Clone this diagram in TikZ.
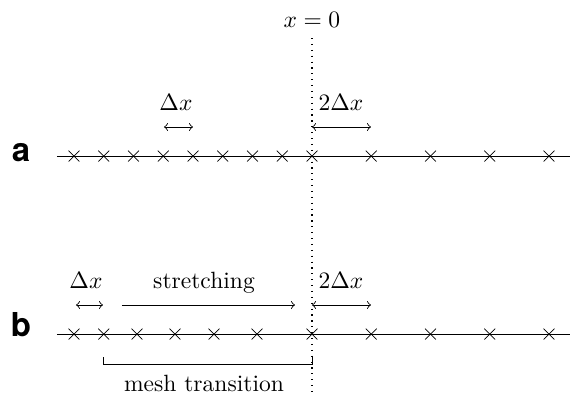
\documentclass[tikz,border=0pt]{standalone}
\usepackage{fontspec}
\newfontfamily\panelfont{TeX Gyre Heros}
\usetikzlibrary{shapes.misc}
\tikzset{
  gridpt/.style={cross out,draw,minimum size=4.3pt,inner sep=0pt,line width=0.3pt},
  spacing/.style={<->,line width=0.35pt},
  panel/.style={font=\panelfont\bfseries\fontsize{14}{16}\selectfont,anchor=base},
  lbl/.style={anchor=base}
}
\begin{document}
\begin{tikzpicture}[x=0.425pt,y=-0.425pt]
  \useasboundingbox (0,0) rectangle (570,395);
  % interface x = 0
  \node[lbl] (origin) at (312,27) {$x=0$};
  \coordinate (ztop) at (312,38);
  \coordinate (zbot) at (312,393);
  \draw[dotted,line width=0.5pt] (ztop) -- (zbot);
  % a: abrupt change of mesh size
  \node[panel] (pa) at (21,161) {a};
  \coordinate (astart) at (57,156);
  \coordinate (aend) at (570,156);
  \draw[line width=0.4pt] (astart) -- (aend);
  \foreach \k in {0,...,8}
    \node[gridpt] (a\k) at ({74+29.75*\k},156) {};
  \foreach \k in {1,...,4}
    \node[gridpt] (ac\k) at ({312+59.25*\k},156) {};
  \coordinate (adxl) at (164,127);
  \coordinate (adxr) at (193,127);
  \draw[spacing] (adxl) -- (adxr);
  \node[lbl] (adx) at (176,110) {$\Delta x$};
  \coordinate (addxl) at (312,127);
  \coordinate (addxr) at (371,127);
  \draw[spacing] (addxl) -- (addxr);
  \node[lbl] (addx) at (341,110) {$2\Delta x$};
  % b: stretched mesh
  \node[panel] (pb) at (21,336) {b};
  \coordinate (bstart) at (57,334);
  \coordinate (bend) at (570,334);
  \draw[line width=0.4pt] (bstart) -- (bend);
  \foreach \x [count=\k] in {74,103.75,137,175,214,257,312}
    \node[gridpt] (b\k) at (\x,334) {};
  \foreach \k in {1,...,4}
    \node[gridpt] (bc\k) at ({312+59.25*\k},334) {};
  \coordinate (bdxl) at (76,305);
  \coordinate (bdxr) at (103,305);
  \draw[spacing] (bdxl) -- (bdxr);
  \node[lbl] (bdx) at (86,288) {$\Delta x$};
  \coordinate (strl) at (122,305);
  \coordinate (strr) at (295,305);
  \draw[->,line width=0.35pt] (strl) -- (strr);
  \node[lbl] (str) at (204,288) {stretching};
  \coordinate (bddxl) at (312,305);
  \coordinate (bddxr) at (371,305);
  \draw[spacing] (bddxl) -- (bddxr);
  \node[lbl] (bddx) at (341,288) {$2\Delta x$};
  % transition bracket
  \coordinate (trl) at (103.75,357);
  \coordinate (trr) at (312,357);
  \draw[line width=0.4pt] (trl) |- (312,364) -- (trr);
  \node[lbl] (tr) at (204,391) {mesh transition};
\end{tikzpicture}
\end{document}
